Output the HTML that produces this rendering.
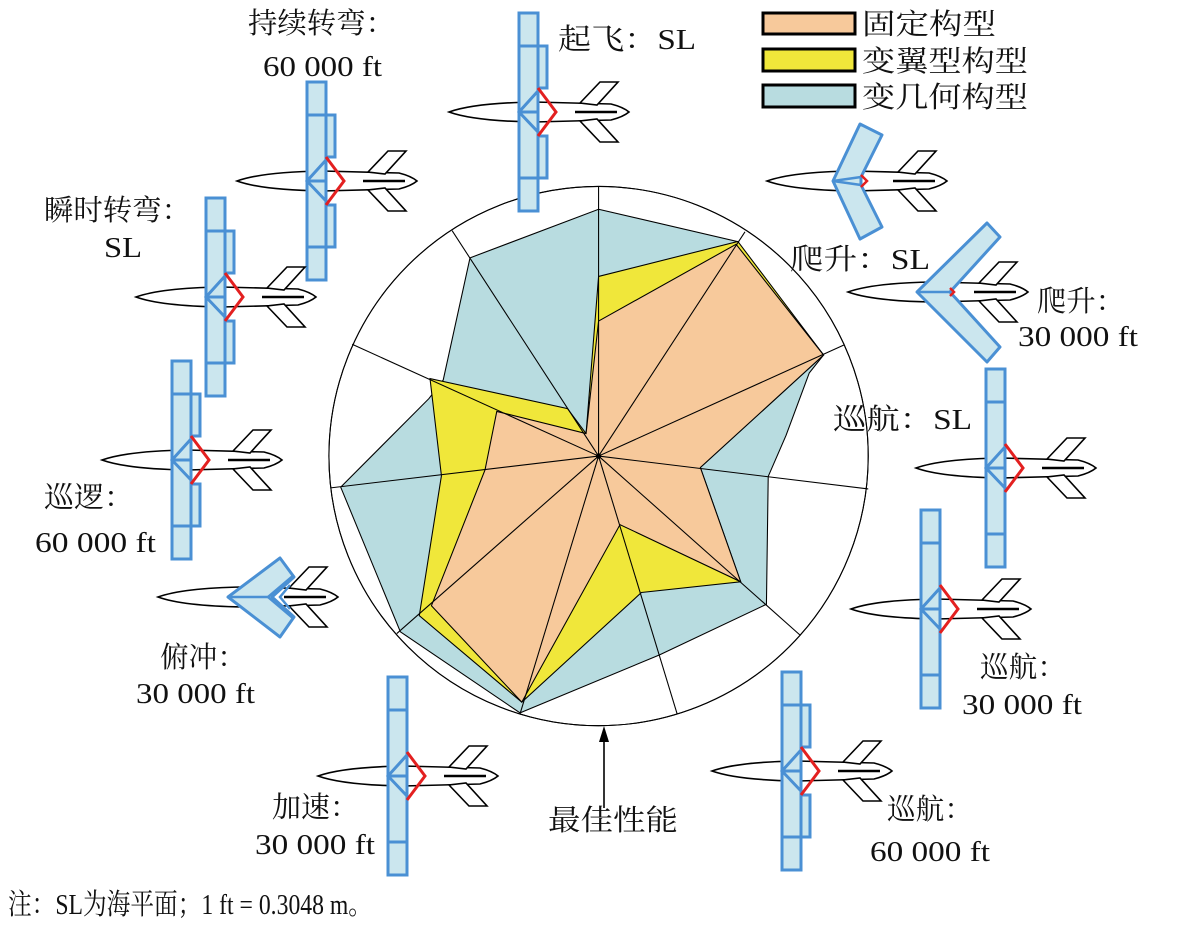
<!DOCTYPE html>
<html><head><meta charset="utf-8">
<style>
html,body{margin:0;padding:0;background:#fff;}
svg{display:block;}
text{font-family:"Liberation Serif","Noto Serif CJK SC","Noto Sans CJK SC",serif;font-size:29px;fill:#111;}
</style></head>
<body>
<svg width="1184" height="927" viewBox="0 0 1184 927" xmlns="http://www.w3.org/2000/svg">
<defs>
  <g id="body">
    <path d="M-70,0 Q-45,-9 15,-10 L92,-8 Q104,-5 110,0 Q104,5 92,8 L15,10 Q-45,9 -70,0Z" fill="#fff" stroke="#000" stroke-width="1.6"/>
    <polygon points="61,-9 81,-30 99,-30 78,-7" fill="#fff" stroke="#000" stroke-width="1.6"/>
    <polygon points="61,9 81,30 99,30 78,7" fill="#fff" stroke="#000" stroke-width="1.6"/>
    <line x1="56" y1="0" x2="98" y2="0" stroke="#000" stroke-width="2.5"/>
  </g>
  <g id="wingclean">
    <rect x="0" y="-99" width="19" height="198" fill="#cbe6ee" stroke="#4a90d4" stroke-width="3"/>
    <line x1="0" y1="-66" x2="19" y2="-66" stroke="#4a90d4" stroke-width="3"/>
    <line x1="0" y1="66" x2="19" y2="66" stroke="#4a90d4" stroke-width="3"/>
    <polyline points="19,-21 0,0 19,20" fill="none" stroke="#4a90d4" stroke-width="3"/>
    <line x1="0" y1="0" x2="19" y2="0" stroke="#4a90d4" stroke-width="3"/>
    <polyline points="19,-24 37,0 19,24" fill="none" stroke="#e32020" stroke-width="3"/>
  </g>
  <g id="wingflap">
    <rect x="19" y="-66" width="9" height="42" fill="#cbe6ee" stroke="#4a90d4" stroke-width="3"/>
    <rect x="19" y="24" width="9" height="42" fill="#cbe6ee" stroke="#4a90d4" stroke-width="3"/>
    <use href="#wingclean"/>
  </g>
  <g id="acflap"><use href="#body"/><use href="#wingflap"/></g>
  <g id="acclean"><use href="#body"/><use href="#wingclean"/></g>
</defs>

<!-- radar chart -->
<g transform="translate(320,180) scale(0.357143)" stroke="#000" stroke-width="3" stroke-linejoin="miter">
  <circle cx="780" cy="773" r="755" fill="#fff"/>
  <polygon fill="#b8dce0" points="780,82 1168,172 1410,490 1370,540 1305,715 1255,830 1250,1188 950,1330 560,1492 225,1265 58,860 305,612 345,560 420,218"/>
  <polygon fill="#f0e73a" points="780,270 1170,172 1410,490 1065,805 1178,1125 900,1155 565,1462 278,1220 340,828 308,556 693,640 745,710"/>
  <polygon fill="#f7c99b" points="780,395 1165,180 1410,490 1065,805 1178,1125 840,965 565,1462 312,1192 462,812 495,648 745,710"/>
  <g fill="none">
    <line x1="780" y1="773" x2="780" y2="18"/>
    <line x1="780" y1="773" x2="1190" y2="145"/>
    <line x1="780" y1="773" x2="1467" y2="462"/>
    <line x1="780" y1="773" x2="1535" y2="865"/>
    <line x1="780" y1="773" x2="1345" y2="1275"/>
    <line x1="780" y1="773" x2="1000" y2="1495"/>
    <line x1="780" y1="773" x2="560" y2="1495"/>
    <line x1="780" y1="773" x2="215" y2="1270"/>
    <line x1="780" y1="773" x2="30" y2="862"/>
    <line x1="780" y1="773" x2="90" y2="460"/>
    <line x1="780" y1="773" x2="370" y2="142"/>
    <circle cx="780" cy="773" r="755"/>
  </g>
  <circle cx="780" cy="773" r="6" fill="#000"/>
</g>

<!-- best performance arrow -->
<line x1="604" y1="808" x2="604" y2="738" stroke="#000" stroke-width="1.6"/>
<polygon points="604,726 599,742 609,742" fill="#000"/>

<!-- aircraft, straight wings -->
<use href="#acflap" x="519" y="112"/>
<use href="#acflap" x="307" y="181"/>
<use href="#acflap" x="206" y="297"/>
<use href="#acflap" x="172" y="460"/>
<use href="#acclean" x="388" y="776"/>
<use href="#acflap" x="782" y="771"/>
<use href="#acclean" x="921" y="609"/>
<use href="#acclean" x="986" y="468"/>

<!-- top-right climb SL (swept) -->
<g transform="translate(833,181)">
  <use href="#body" x="4" y="0"/>
  <polygon points="0,0 27,-57 49,-46 28,-4 28,4 49,46 27,58" fill="#cbe6ee" stroke="#4a90d4" stroke-width="3" stroke-linejoin="round"/>
  <polyline points="28,-4 0,0 28,4" fill="none" stroke="#4a90d4" stroke-width="2.5"/>
  <polyline points="28,-6 34,0 28,6" fill="none" stroke="#e32020" stroke-width="2.5"/>
</g>
<!-- climb 30000 (highly swept) -->
<g transform="translate(917,292)">
  <use href="#body" x="1" y="0"/>
  <polygon points="0,0 70,-69 83,-55 33,0 83,55 70,70" fill="#cbe6ee" stroke="#4a90d4" stroke-width="3" stroke-linejoin="round"/>
  <line x1="0" y1="0" x2="33" y2="0" stroke="#4a90d4" stroke-width="2.5"/>
  <polyline points="33,-4 37,0 33,4" fill="none" stroke="#e32020" stroke-width="2.5"/>
</g>
<!-- dive 30000 (folded) -->
<g transform="translate(228,597)">
  <use href="#body" x="0" y="0"/>
  <polygon points="0,0 52,-39 66,-20 44,0 66,20 52,40" fill="#cbe6ee" stroke="#4a90d4" stroke-width="3" stroke-linejoin="round"/>
  <polyline points="0,0 40,0" fill="none" stroke="#4a90d4" stroke-width="2.5"/>
  <polyline points="66,-22 40,0 66,22" fill="none" stroke="#4a90d4" stroke-width="2.5"/>
  <polyline points="62,-12 52,0 62,12" fill="none" stroke="#4a90d4" stroke-width="2.5"/>
</g>

<!-- legend -->
<rect x="763" y="13" width="92" height="21" fill="#f7c99b" stroke="#000" stroke-width="3"/>
<rect x="763" y="49" width="92" height="22" fill="#f0e73a" stroke="#000" stroke-width="3"/>
<rect x="763" y="85" width="92" height="22" fill="#b8dce0" stroke="#000" stroke-width="3"/>
<text x="862" y="34" textLength="134" lengthAdjust="spacingAndGlyphs">固定构型</text>
<text x="862" y="71" textLength="166" lengthAdjust="spacingAndGlyphs">变翼型构型</text>
<text x="862" y="107" textLength="166" lengthAdjust="spacingAndGlyphs">变几何构型</text>

<!-- labels -->
<text x="248" y="33" textLength="147" lengthAdjust="spacingAndGlyphs">持续转弯：</text>
<text x="263" y="76" textLength="119" lengthAdjust="spacingAndGlyphs">60 000 ft</text>
<text x="558" y="49" textLength="138" lengthAdjust="spacingAndGlyphs">起飞：SL</text>
<text x="44" y="220" textLength="147" lengthAdjust="spacingAndGlyphs">瞬时转弯：</text>
<text x="104" y="257" textLength="38" lengthAdjust="spacingAndGlyphs">SL</text>
<text x="44" y="507" textLength="90" lengthAdjust="spacingAndGlyphs">巡逻：</text>
<text x="35" y="552" textLength="121" lengthAdjust="spacingAndGlyphs">60 000 ft</text>
<text x="160" y="667" textLength="86" lengthAdjust="spacingAndGlyphs">俯冲：</text>
<text x="136" y="703" textLength="119" lengthAdjust="spacingAndGlyphs">30 000 ft</text>
<text x="272" y="817" textLength="87" lengthAdjust="spacingAndGlyphs">加速：</text>
<text x="255" y="854" textLength="120" lengthAdjust="spacingAndGlyphs">30 000 ft</text>
<text x="548" y="830" textLength="130" lengthAdjust="spacingAndGlyphs">最佳性能</text>
<text x="8" y="914" textLength="364" lengthAdjust="spacingAndGlyphs">注：SL为海平面；1 ft = 0.3048 m。</text>
<text x="887" y="819" textLength="86" lengthAdjust="spacingAndGlyphs">巡航：</text>
<text x="870" y="861" textLength="120" lengthAdjust="spacingAndGlyphs">60 000 ft</text>
<text x="980" y="677" textLength="86" lengthAdjust="spacingAndGlyphs">巡航：</text>
<text x="962" y="714" textLength="120" lengthAdjust="spacingAndGlyphs">30 000 ft</text>
<text x="833" y="429" textLength="139" lengthAdjust="spacingAndGlyphs">巡航：SL</text>
<text x="790" y="269" textLength="140" lengthAdjust="spacingAndGlyphs">爬升：SL</text>
<text x="1037" y="311" textLength="88" lengthAdjust="spacingAndGlyphs">爬升：</text>
<text x="1018" y="346" textLength="120" lengthAdjust="spacingAndGlyphs">30 000 ft</text>
</svg>
</body></html>
